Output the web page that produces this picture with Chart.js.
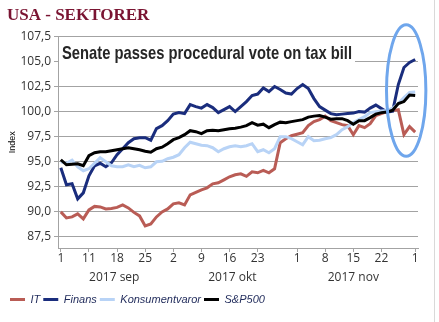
<!DOCTYPE html>
<html>
<head>
<meta charset="utf-8">
<script src="https://cdn.jsdelivr.net/npm/chart.js@4.4.0/dist/chart.umd.min.js"></script>
<style>
html, body { margin: 0; padding: 0; background: #fff; }
#wrap { position: relative; width: 439px; height: 322px; }
#wrap:after { content: ''; position: absolute; left: 434px; top: 0; width: 1px; height: 322px; background: #d9d9d9; }
</style>
</head>
<body>
<div id="wrap"><canvas id="chart" width="439" height="322"></canvas></div>
<script>
// trading days, 1 sep - 1 dec 2017
const dates = [
  '2017-09-01','2017-09-05','2017-09-06','2017-09-07','2017-09-08','2017-09-11','2017-09-12','2017-09-13','2017-09-14','2017-09-15',
  '2017-09-18','2017-09-19','2017-09-20','2017-09-21','2017-09-22','2017-09-25','2017-09-26','2017-09-27','2017-09-28','2017-09-29',
  '2017-10-02','2017-10-03','2017-10-04','2017-10-05','2017-10-06','2017-10-09','2017-10-10','2017-10-11','2017-10-12','2017-10-13',
  '2017-10-16','2017-10-17','2017-10-18','2017-10-19','2017-10-20','2017-10-23','2017-10-24','2017-10-25','2017-10-26','2017-10-27',
  '2017-10-30','2017-10-31','2017-11-01','2017-11-02','2017-11-03','2017-11-06','2017-11-07','2017-11-08','2017-11-09','2017-11-10',
  '2017-11-13','2017-11-14','2017-11-15','2017-11-16','2017-11-17','2017-11-20','2017-11-21','2017-11-22','2017-11-24','2017-11-27',
  '2017-11-28','2017-11-29','2017-11-30','2017-12-01'
];
const labelledDates = ['2017-09-01','2017-09-11','2017-09-18','2017-09-25','2017-10-02','2017-10-09','2017-10-16','2017-10-23',
  '2017-11-01','2017-11-08','2017-11-15','2017-11-22','2017-12-01'];
const monthKeys = ['2017-09','2017-10','2017-11'];
const monthLabels = ['2017 sep','2017 okt','2017 nov'];
const yTicks = [87.5, 90, 92.5, 95, 97.5, 100, 102.5, 105, 107.5];

const itValues = [
  90.0, 89.4, 89.5, 89.8, 89.3, 90.2, 90.55, 90.5, 90.3, 90.35,
  90.45, 90.7, 90.4, 89.95, 89.6, 88.6, 88.8, 89.5, 90.0, 90.3,
  90.8, 90.9, 90.7, 91.7, 91.95, 92.2, 92.4, 92.8, 92.9, 93.2,
  93.5, 93.7, 93.8, 93.55, 94.0, 93.9, 94.15, 93.9, 94.3, 96.9,
  97.3, 97.6, 97.75, 97.9, 98.6, 99.0, 99.2, 99.55, 99.1, 98.9,
  98.7, 98.6, 97.7, 98.6, 98.4, 98.8, 99.6, 99.8, 100.0, 100.1,
  100.2, 97.7, 98.5, 97.95
];
const finansValues = [
  94.4, 92.7, 92.8, 91.3, 91.9, 93.6, 94.6, 94.85, 94.5, 94.9,
  95.7, 96.3, 96.9, 97.3, 97.4, 97.4, 97.15, 98.3, 98.6, 99.1,
  99.75, 99.9, 99.8, 100.7, 100.5, 100.35, 100.7, 100.4, 99.9, 100.2,
  100.5, 100.0, 100.5, 101.0, 101.6, 101.75, 102.35, 102.0, 102.5, 102.2,
  101.85, 101.75, 102.3, 102.7, 102.3, 101.3, 100.5, 100.15, 99.8, 99.7,
  99.75, 99.8, 99.85, 100.0, 99.95, 100.35, 100.65, 100.3, 99.95, 100.05,
  102.7, 104.4, 104.9, 105.2
];
const konsumValues = [
  95.0, 94.85, 95.15, 94.5, 94.1, 94.3, 94.85, 95.4, 95.0, 94.6,
  94.5, 94.5, 94.7, 94.5, 94.65, 94.4, 94.5, 95.0, 95.05, 95.3,
  95.45, 95.7, 96.4, 96.95, 96.8, 96.65, 96.6, 96.4, 96.0, 96.3,
  96.5, 96.6, 96.5, 96.6, 96.8, 96.0, 96.2, 95.9, 96.3, 97.5,
  97.5, 97.3, 97.0, 96.7, 97.5, 97.1, 97.15, 97.3, 97.4, 97.7,
  98.2, 98.5, 98.9, 99.2, 99.5, 99.9, 100.0, 100.05, 100.1, 100.35,
  100.8, 101.4, 101.9, 101.95
];
const sp500Values = [
  95.2, 94.7, 94.75, 94.8, 94.6, 95.6, 95.9, 96.0, 96.0, 96.1,
  96.2, 96.3, 96.4, 96.3, 96.2, 96.05, 95.95, 96.3, 96.45, 96.8,
  97.2, 97.4, 97.7, 98.1, 98.0, 97.8, 98.1, 98.15, 98.1, 98.2,
  98.3, 98.35, 98.45, 98.6, 98.9, 98.65, 98.75, 98.4, 98.7, 98.95,
  98.9, 99.0, 99.1, 99.2, 99.45, 99.55, 99.6, 99.45, 99.25, 99.3,
  99.3, 99.1, 98.75, 99.1, 99.1, 99.4, 99.75, 99.9, 99.95, 100.15,
  100.8, 101.0, 101.65, 101.6
];
const noteText = 'Senate passes procedural vote on tax bill';

const tickFont = { family: 'Open Sans', size: 12 };
const gridColor = '#a3a3a3';

// headline box, month row under the axis and the blue ring
const notes = {
  id: 'notes',
  beforeDatasetsDraw(chart) {
    const { ctx, chartArea: a, scales: { y } } = chart;
    const top = y.getPixelForValue(107.2), bottom = y.getPixelForValue(104.75);
    ctx.save();
    ctx.fillStyle = '#fff';
    ctx.fillRect(a.left + 1, top, 296, bottom - top);
    ctx.font = 'bold 19px "Liberation Sans", sans-serif';
    ctx.fillStyle = '#262626';
    ctx.textBaseline = 'alphabetic';
    const w = ctx.measureText(noteText).width;
    ctx.translate(a.left + 4, y.getPixelForValue(105.2));
    ctx.scale(290 / w, 1);
    ctx.fillText(noteText, 0, 0);
    ctx.restore();
  },
  afterDatasetsDraw(chart) {
    const { ctx, scales: { x, y } } = chart;
    const cx = x.getPixelForValue(61.4), cy = y.getPixelForValue(102.1);
    ctx.save();
    ctx.strokeStyle = '#6fa6ec';
    ctx.lineWidth = 3;
    ctx.beginPath();
    ctx.ellipse(cx, cy, cx - x.getPixelForValue(57.9), y.getPixelForValue(95.55) - cy, 0, 0, Math.PI * 2);
    ctx.stroke();
    ctx.restore();
  },
  afterDraw(chart) {
    const { ctx, chartArea: a, scales: { x } } = chart;
    ctx.save();
    ctx.font = '12px "Open Sans"';
    ctx.fillStyle = '#333';
    ctx.textAlign = 'center';
    ctx.textBaseline = 'middle';
    monthKeys.forEach((m, k) => {
      const idx = dates.map((d, i) => d.startsWith(m) ? i : -1).filter(i => i >= 0);
      const cx = (x.getPixelForValue(idx[0]) + x.getPixelForValue(idx[idx.length - 1])) / 2;
      ctx.fillText(monthLabels[k], cx, a.bottom + 30);
    });
    ctx.restore();
  }
};

function line(label, data, color, order) {
  return { label, data, borderColor: color, backgroundColor: color, borderWidth: 3,
    pointRadius: 0, tension: 0, order };
}

new Chart(document.getElementById('chart'), {
  type: 'line',
  data: {
    labels: dates,
    datasets: [
      line('IT', itValues, '#b95c55', 3),
      line('Finans', finansValues, '#1a2d7d', 2),
      line('Konsumentvaror', konsumValues, '#b8d3f6', 1),
      line('S&P500', sp500Values, '#000000', 0)
    ]
  },
  options: {
    responsive: false,
    animation: false,
    layout: { padding: { left: 7, right: 21, top: 0, bottom: 7 } },
    plugins: {
      tooltip: { enabled: false },
      title: {
        display: true, text: 'USA - SEKTORER', align: 'start', color: '#7a1432',
        font: { family: 'Liberation Serif', size: 17, weight: 'bold' },
        padding: { top: 5, bottom: 11 }
      },
      legend: {
        position: 'bottom', align: 'start',
        labels: {
          boxWidth: 15, boxHeight: 3, padding: 3, color: '#1f2a5a',
          font: { family: 'Liberation Sans', size: 11, style: 'italic' },
          sort: (a, b) => a.datasetIndex - b.datasetIndex,
          generateLabels: chart => Chart.defaults.plugins.legend.labels.generateLabels(chart)
            .map(l => ({ ...l, lineWidth: 0, fillStyle: l.strokeStyle }))
        }
      }
    },
    scales: {
      x: {
        type: 'category', offset: true,
        afterFit: s => { s.height = 43; },
        border: { color: gridColor },
        grid: {
          drawOnChartArea: false, offset: false, tickLength: 4,
          color: c => labelledDates.includes(dates[c.index]) ? gridColor : 'rgba(0,0,0,0)'
        },
        ticks: {
          autoSkip: false, maxRotation: 0, padding: -1, color: '#333', font: tickFont,
          callback: (v, i) => labelledDates.includes(dates[i]) ? String(+dates[i].slice(8)) : ''
        }
      },
      y: {
        min: 86.4, max: 107.5,
        afterBuildTicks: s => { s.ticks = yTicks.map(v => ({ value: v })); },
        afterFit: s => { s.width = 51; },
        border: { color: gridColor },
        grid: { color: gridColor, tickLength: 4 },
        ticks: { color: '#333', font: tickFont, padding: 3, callback: v => v.toFixed(1).replace('.', ',') },
        title: { display: true, text: 'Index', color: '#000', font: { family: 'Liberation Sans', size: 9 }, padding: 0 }
      }
    }
  },
  plugins: [notes]
});
</script>
</body>
</html>
